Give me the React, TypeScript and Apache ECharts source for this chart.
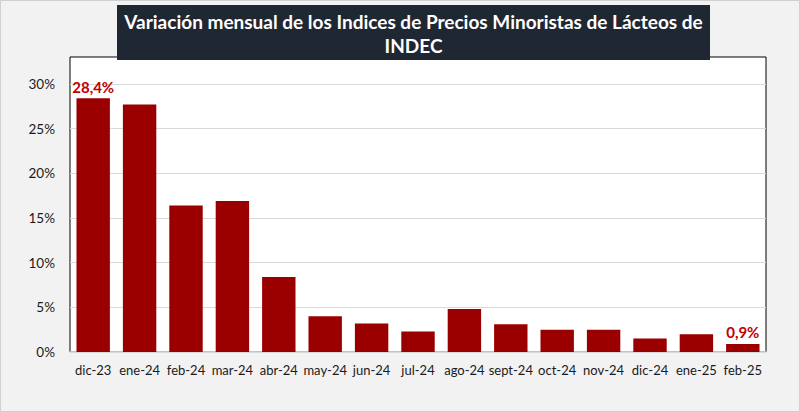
import React, { useEffect, useRef } from "react";
import * as echarts from "echarts";

const categories = ["dic-23", "ene-24", "feb-24", "mar-24", "abr-24", "may-24", "jun-24", "jul-24", "ago-24", "sept-24", "oct-24", "nov-24", "dic-24", "ene-25", "feb-25"];
const values = [28.4, 27.7, 16.4, 16.9, 8.4, 4.0, 3.2, 2.3, 4.8, 3.1, 2.5, 2.5, 1.5, 2.0, 0.9];
const labeledIndices = [0, 14];
const titleLines = ["Variación mensual de los Indices de Precios Minoristas de Lácteos de", "INDEC"];

const FONT = "Lato, 'Open Sans', sans-serif";

export default function App() {
  const ref = useRef<HTMLDivElement>(null);
  useEffect(() => {
    if (!ref.current) return;
    const chart = echarts.init(ref.current, null, { renderer: "svg" });
    const fmt = (v: number) => v.toFixed(1).replace(".", ",") + "%";
    chart.setOption({
      animation: false,
      backgroundColor: "#f2f2f2",
      textStyle: { fontFamily: FONT },
      grid: { left: 70, right: 34, top: 84, bottom: 60 },
      graphic: [
        { type: "rect", z: -10, silent: true, shape: { x: 0.5, y: 0.5, width: 799, height: 411 }, style: { fill: "#f2f2f2", stroke: "#d0d0d0", lineWidth: 1 } },
        { type: "rect", z: -9, silent: true, shape: { x: 70, y: 57, width: 696, height: 295 }, style: { fill: "#ffffff", stroke: "#000000", lineWidth: 1 } },
        { type: "rect", z: 50, silent: true, shape: { x: 117, y: 5, width: 593, height: 55 }, style: { fill: "#1f2733" } },
        { type: "text", z: 51, silent: true, x: 413.5, y: 21, style: { text: titleLines[0], fill: "#ffffff", font: `bold 19px ${FONT}`, align: "center", verticalAlign: "middle" } },
        { type: "text", z: 51, silent: true, x: 413.5, y: 45, style: { text: titleLines[1], fill: "#ffffff", font: `bold 19px ${FONT}`, align: "center", verticalAlign: "middle" } },
      ],
      xAxis: {
        type: "category",
        data: categories,
        axisLine: { lineStyle: { color: "#d9d9d9", width: 1.5 } },
        axisTick: { show: false },
        axisLabel: { color: "#1a1a1a", fontSize: 13, margin: 11, interval: 0, fontFamily: FONT },
      },
      yAxis: {
        type: "value",
        min: 0,
        max: 30,
        interval: 5,
        axisLine: { show: false },
        axisTick: { show: false },
        splitLine: { lineStyle: { color: "#d9d9d9", width: 1 } },
        axisLabel: { color: "#1a1a1a", fontSize: 13.5, margin: 15, formatter: (v: number) => v + "%", fontFamily: FONT },
      },
      series: [
        {
          type: "bar",
          barCategoryGap: "28%",
          itemStyle: { color: "#9b0000" },
          data: values.map((v, i) => ({
            value: v,
            label: labeledIndices.includes(i)
              ? { show: true, position: "top", distance: 4, color: "#c00000", fontWeight: "bold", fontSize: 15, formatter: () => fmt(v), fontFamily: FONT }
              : { show: false },
          })),
        },
      ],
    });
    return () => chart.dispose();
  }, []);
  return <div ref={ref} style={{ position: "absolute", left: 0, top: 0, width: 800, height: 412 }} />;
}
